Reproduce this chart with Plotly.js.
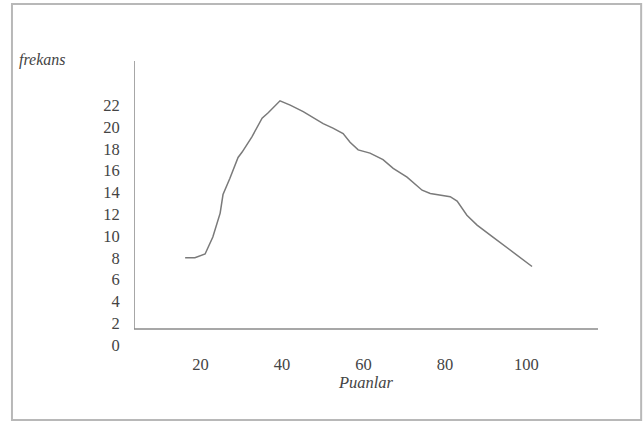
<!DOCTYPE html>
<html>
<head>
<meta charset="utf-8">
<script src="https://cdn.plot.ly/plotly-3.0.1.min.js"></script>
<style>html,body{margin:0;padding:0;background:#fff;}#chart{width:643px;height:426px;}</style>
</head>
<body>
<div id="chart"></div>
<script>
var puanlar = [16.2, 18.6, 21.1, 23.0, 24.8, 25.5, 27.2, 29.2, 30.2, 32.6, 35.1, 36.6, 39.5, 42.0, 45.2, 48.6, 50.1, 52.5, 55.0, 56.7, 58.7, 61.6, 64.8, 67.3, 70.7, 74.4, 76.4, 81.3, 83.0, 85.4, 87.9, 91.8, 95.3, 98.5, 101.4];
var frekans = [8.0, 8.0, 8.35, 9.9, 12.1, 13.8, 15.3, 17.2, 17.7, 19.1, 20.8, 21.3, 22.4, 22.0, 21.4, 20.6, 20.3, 19.9, 19.4, 18.6, 17.9, 17.6, 17.0, 16.2, 15.4, 14.2, 13.9, 13.6, 13.2, 11.9, 11.0, 9.9, 8.9, 8.0, 7.2];
var xTicks = [20, 40, 60, 80, 100];
var yTicks = [0, 2, 4, 6, 8, 10, 12, 14, 16, 18, 20, 22];

var tickFont = {family: 'Liberation Serif, Times New Roman, serif', size: 16.5, color: '#444444'};

var trace = {
  x: puanlar, y: frekans, type: 'scatter', mode: 'lines',
  line: {color: '#7a7a7a', width: 1.5, shape: 'linear'},
  hoverinfo: 'skip'
};

var layout = {
  width: 643, height: 426,
  margin: {l: 134, r: 45, t: 61, b: 74},
  paper_bgcolor: '#ffffff', plot_bgcolor: '#ffffff',
  showlegend: false,
  xaxis: {
    range: [3.64, 117.6], tickvals: xTicks, ticktext: xTicks.map(String),
    showgrid: false, zeroline: false, showline: false,
    ticks: '',
    tickfont: tickFont,
    title: {text: 'Puanlar', standoff: 3, font: {family: 'Liberation Serif, serif', size: 16.5, color: '#444444', style: 'italic'}}
  },
  yaxis: {
    range: [-0.64, 26.05], tickvals: yTicks, ticktext: yTicks.map(String),
    showgrid: false, zeroline: false, showline: false,
    ticks: 'outside', ticklen: 10, tickcolor: 'rgba(0,0,0,0)',
    tickfont: tickFont
  },
  shapes: [
    {type: 'line', xref: 'x', yref: 'y', x0: 3.64, x1: 3.64, y0: 1.47, y1: 26.05, line: {color: '#8a8a8a', width: 1.5}},
    {type: 'line', xref: 'x', yref: 'y', x0: 3.64, x1: 117.6, y0: 1.47, y1: 1.47, line: {color: '#8a8a8a', width: 1.5}},
    {type: 'rect', xref: 'paper', yref: 'paper', x0: -0.263, x1: 1.093, y0: -0.234, y1: 1.196, line: {color: '#b8b8b8', width: 2}}
  ],
  annotations: [
    {xref: 'paper', yref: 'paper', x: -0.252, y: 1.003, xanchor: 'left', yanchor: 'middle', showarrow: false,
     text: 'frekans', font: {family: 'Liberation Serif, serif', size: 16, color: '#444444', style: 'italic'}}
  ]
};

Plotly.newPlot('chart', [trace], layout, {displayModeBar: false, staticPlot: true});
</script>
</body>
</html>
